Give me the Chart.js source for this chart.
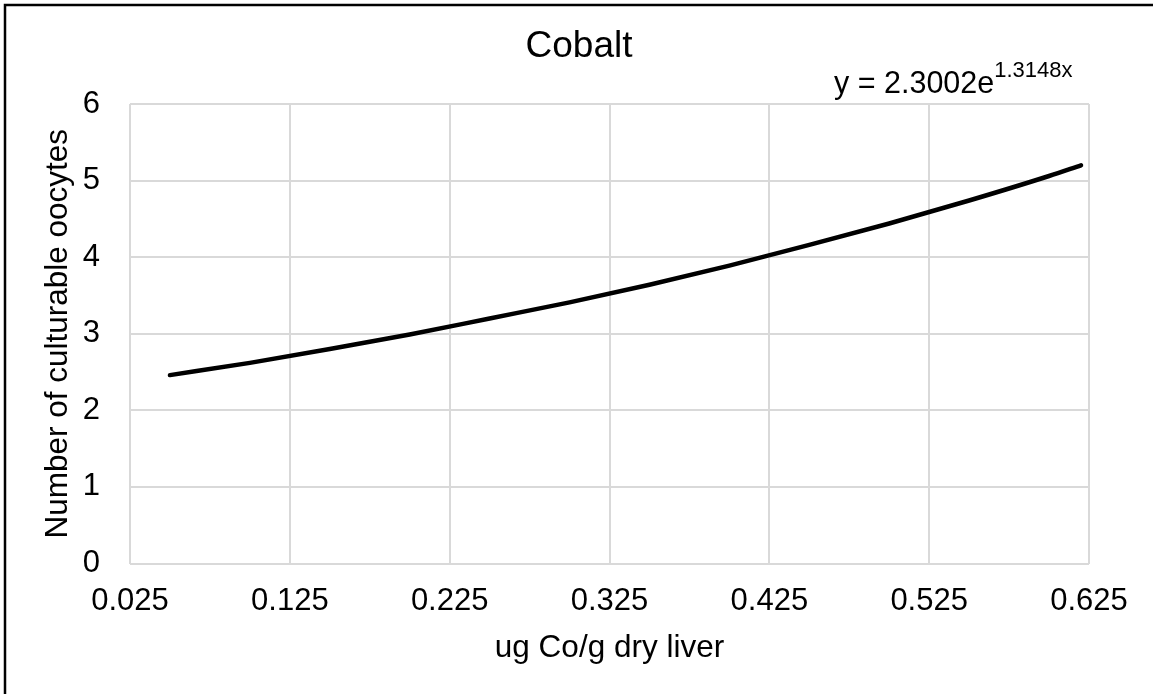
<!DOCTYPE html>
<html>
<head>
<meta charset="utf-8">
<script src="https://cdn.jsdelivr.net/npm/chart.js@4/dist/chart.umd.min.js"></script>
<style>
  html, body { margin: 0; padding: 0; background: #fff; }
  canvas { display: block; }
</style>
</head>
<body>
<canvas id="c" width="1153" height="694"></canvas>
<script>
// ---- data ----
const chartTitle = "Cobalt";
const xAxisTitle = "ug Co/g dry liver";
const yAxisTitle = "Number of culturable oocytes";
const xValues = [0.05, 0.10, 0.15, 0.20, 0.25, 0.30, 0.35, 0.40, 0.45, 0.50, 0.55, 0.60, 0.62];
const yValues = [2.46, 2.62, 2.80, 2.99, 3.20, 3.41, 3.64, 3.89, 4.16, 4.44, 4.74, 5.06, 5.20];
const xTicks = [0.025, 0.125, 0.225, 0.325, 0.425, 0.525, 0.625];
const yTicks = [0, 1, 2, 3, 4, 5, 6];
const eqCoefA = "2.3002";
const eqCoefB = "1.3148";

const FONT = "'Liberation Sans', Arial, sans-serif";
const points = xValues.map((x, i) => ({ x: x, y: yValues[i] }));

const framePlugin = {
  id: 'frame',
  beforeDraw(chart) {
    const ctx = chart.ctx;
    ctx.save();
    ctx.fillStyle = '#fff';
    ctx.fillRect(0, 0, chart.width, chart.height);
    ctx.strokeStyle = '#000';
    ctx.lineWidth = 2.5;
    ctx.beginPath();
    ctx.moveTo(5, chart.height + 5);
    ctx.lineTo(5, 5);
    ctx.lineTo(chart.width + 5, 5);
    ctx.stroke();
    ctx.restore();
  }
};

const equationPlugin = {
  id: 'equation',
  afterDraw(chart) {
    const ctx = chart.ctx;
    ctx.save();
    ctx.fillStyle = '#000';
    ctx.textBaseline = 'alphabetic';
    ctx.textAlign = 'left';
    const main = 'y = ' + eqCoefA + 'e';
    ctx.font = '30.5px ' + FONT;
    const x0 = 834, base = 93;
    ctx.fillText(main, x0, base);
    const w = ctx.measureText(main).width;
    ctx.font = '22px ' + FONT;
    ctx.fillText(eqCoefB + 'x', x0 + w, base - 16);
    ctx.restore();
  }
};

new Chart(document.getElementById('c'), {
  type: 'scatter',
  data: {
    datasets: [{
      label: 'Trend',
      data: points,
      showLine: true,
      borderColor: '#000',
      backgroundColor: '#000',
      borderWidth: 4.5,
      borderCapStyle: 'round',
      borderJoinStyle: 'round',
      pointRadius: 0,
      pointHoverRadius: 0,
      cubicInterpolationMode: 'monotone',
      xAxisID: 'x',
      yAxisID: 'y'
    }]
  },
  options: {
    responsive: false,
    animation: false,
    devicePixelRatio: 1,
    layout: { padding: { left: 5, right: 0, top: 5, bottom: 0 } },
    plugins: {
      legend: { display: false },
      tooltip: { enabled: false },
      title: {
        display: true,
        text: chartTitle,
        color: '#000',
        font: { family: FONT, size: 37, weight: 'normal' },
        padding: { top: 20, bottom: 34.6 }
      }
    },
    scales: {
      x: {
        type: 'linear',
        position: 'bottom',
        min: xTicks[0],
        max: xTicks[xTicks.length - 1],
        afterBuildTicks(s) { s.ticks = xTicks.map(v => ({ value: v })); },
        afterFit(s) { s.height = 130.5; },
        grid: { color: '#d9d9d9', lineWidth: 2, drawTicks: false },
        border: { display: false },
        ticks: {
          padding: 19,
          color: '#000',
          maxRotation: 0,
          autoSkip: false,
          font: { family: FONT, size: 31 },
          callback: v => Number(v).toFixed(3)
        },
        title: {
          display: true,
          text: xAxisTitle,
          color: '#000',
          font: { family: FONT, size: 31.5 },
          padding: { top: 0, bottom: 27 }
        }
      },
      y: {
        type: 'linear',
        position: 'left',
        min: yTicks[0],
        max: yTicks[yTicks.length - 1],
        afterBuildTicks(s) { s.ticks = yTicks.map(v => ({ value: v })); },
        afterFit(s) { s.width = 125; },
        grid: { color: '#d9d9d9', lineWidth: 2, drawTicks: false },
        border: { display: false },
        ticks: {
          padding: 30,
          color: '#000',
          font: { family: FONT, size: 31 },
          callback: v => String(v)
        },
        title: {
          display: true,
          text: yAxisTitle,
          color: '#000',
          font: { family: FONT, size: 31.5 },
          padding: { top: 34, bottom: 0 }
        }
      },
      yRight: {
        type: 'linear',
        position: 'right',
        display: true,
        afterFit(s) { s.width = 64; },
        grid: { display: false, drawOnChartArea: false },
        border: { display: false },
        ticks: { display: false }
      }
    }
  },
  plugins: [framePlugin, equationPlugin]
});
</script>
</body>
</html>
